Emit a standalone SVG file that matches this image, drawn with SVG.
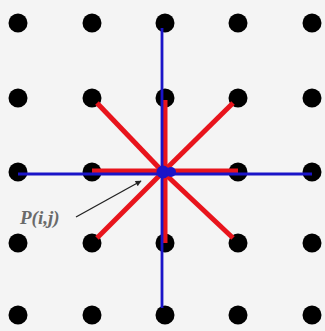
<svg xmlns="http://www.w3.org/2000/svg" width="325" height="331" viewBox="0 0 325 331">
<style>
.dot{fill:#000}
.red{stroke:#e8141c;stroke-width:5;stroke-linecap:butt}
.blue{stroke:#1a14c8;stroke-width:2.8}
.lbl{font-family:"Liberation Serif",serif;font-style:italic;font-weight:bold;font-size:19px;fill:#6a6a6a}
</style>
<defs>
<marker id="ah" viewBox="0 0 10 10" refX="9" refY="5" markerWidth="8" markerHeight="6" orient="auto" markerUnits="userSpaceOnUse"><path d="M0,0 L10,5 L0,10 z" fill="#222"/></marker>
</defs>
<rect width="325" height="331" fill="#f4f4f4"/>
<g id="nodes">
<g id="r0"><circle class="dot" cx="18" cy="23" r="9.5"/><circle class="dot" cx="92" cy="23" r="9.5"/><circle class="dot" cx="165" cy="23" r="9.5"/><circle class="dot" cx="238" cy="23" r="9.5"/><circle class="dot" cx="312" cy="23" r="9.5"/></g>
<g id="r1"><circle class="dot" cx="18" cy="98" r="9.5"/><circle class="dot" cx="92" cy="98" r="9.5"/><circle class="dot" cx="165" cy="98" r="9.5"/><circle class="dot" cx="238" cy="98" r="9.5"/><circle class="dot" cx="312" cy="98" r="9.5"/></g>
<g id="r2"><circle class="dot" cx="18" cy="172" r="9.5"/><circle class="dot" cx="92" cy="172" r="9.5"/><circle class="dot" cx="238" cy="172" r="9.5"/><circle class="dot" cx="312" cy="172" r="9.5"/></g>
<g id="r3"><circle class="dot" cx="18" cy="243" r="9.5"/><circle class="dot" cx="92" cy="243" r="9.5"/><circle class="dot" cx="165" cy="243" r="9.5"/><circle class="dot" cx="238" cy="243" r="9.5"/><circle class="dot" cx="312" cy="243" r="9.5"/></g>
<g id="r4"><circle class="dot" cx="18" cy="315" r="9.5"/><circle class="dot" cx="92" cy="315" r="9.5"/><circle class="dot" cx="165" cy="315" r="9.5"/><circle class="dot" cx="238" cy="315" r="9.5"/><circle class="dot" cx="312" cy="315" r="9.5"/></g>
</g>
<g id="connectors">
<line class="red" x1="97" y1="103" x2="163" y2="172"/>
<line class="red" x1="233" y1="103" x2="163" y2="172"/>
<line class="red" x1="97" y1="238" x2="163" y2="172"/>
<line class="red" x1="233" y1="238" x2="163" y2="172"/>
<line class="red" x1="92" y1="171" x2="238" y2="171"/>
<line class="red" x1="165" y1="100" x2="165" y2="243"/>
<line class="blue" x1="162" y1="28" x2="162" y2="308"/>
<line class="blue" x1="18" y1="174" x2="312" y2="174"/>
<circle cx="163" cy="172" r="6.5" fill="#1a14c8"/>
<circle cx="171" cy="172" r="5" fill="#1a14c8"/>
<line x1="76" y1="217" x2="141" y2="181" stroke="#222" stroke-width="1.3" marker-end="url(#ah)"/>
</g>
<g id="label"><text class="lbl" x="20" y="224">P(i,j)</text></g>
</svg>
